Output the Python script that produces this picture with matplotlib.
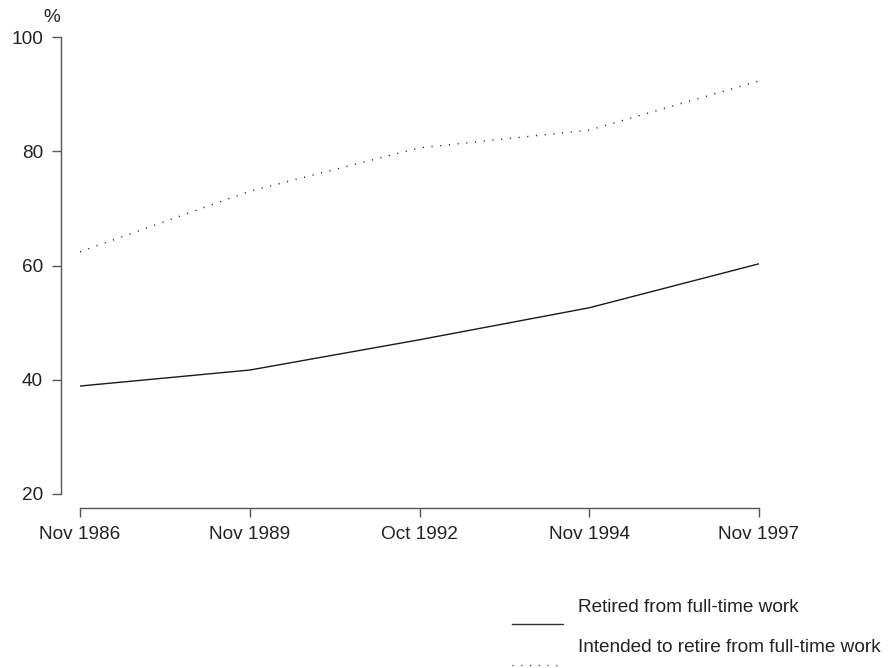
import matplotlib
matplotlib.use('Agg')
from matplotlib import pyplot as plt
from matplotlib.lines import Line2D

plt.rcParams['font.family'] = ['Liberation Sans', 'DejaVu Sans']

periods = ['Nov 1986', 'Nov 1989', 'Oct 1992', 'Nov 1994', 'Nov 1997']
retired = [38.9, 41.7, 47.0, 52.6, 60.3]
intended = [62.4, 73.0, 80.6, 83.7, 92.3]
y_ticks = [20, 40, 60, 80, 100]

W, H = 894, 668
FS = 13.7
fig = plt.figure(figsize=(W / 100, H / 100), dpi=100)
ax = fig.add_axes([80 / W, (H - 494) / H, (759 - 80) / W, (494 - 37) / H])

x = list(range(len(periods)))
ax.plot(x, retired, color='#1a1a1a', linewidth=1.0)
ax.plot(x, intended, color='#1a1a1a', linewidth=1.0, dashes=(0.8, 5.5))

ax.set_xlim(0, len(periods) - 1)
ax.set_ylim(20, 100)
ax.set_xticks(x)
ax.set_xticklabels(periods)
ax.set_yticks(y_ticks)

for side in ('top', 'right'):
    ax.spines[side].set_visible(False)
ax.spines['left'].set_position(('outward', 13.7))
ax.spines['bottom'].set_position(('outward', 10))
for side in ('left', 'bottom'):
    ax.spines[side].set_color('#555555')
    ax.spines[side].set_linewidth(1.0)
ax.tick_params(direction='out', length=6.5, width=1.0, color='#555555',
               labelsize=FS, labelcolor='#222222', pad=6.5)

fig.text(52 / W, 1 - 18 / H, '%', fontsize=FS, color='#222222',
         ha='center', va='center')

# legend below the plot
fig.add_artist(Line2D([512 / W, 563 / W], [1 - 624 / H, 1 - 624 / H],
                      color='#333333', linewidth=1.0))
fig.add_artist(Line2D([512 / W, 563 / W], [1 - 665 / H, 1 - 665 / H],
                      color='#333333', linewidth=1.0, dashes=(0.8, 5.5)))
fig.text(578 / W, 1 - 608 / H, 'Retired from full-time work', fontsize=FS,
         color='#222222', va='center')
fig.text(578 / W, 1 - 647 / H, 'Intended to retire from full-time work',
         fontsize=FS, color='#222222', va='center')

fig.savefig('out.png', dpi=100)
